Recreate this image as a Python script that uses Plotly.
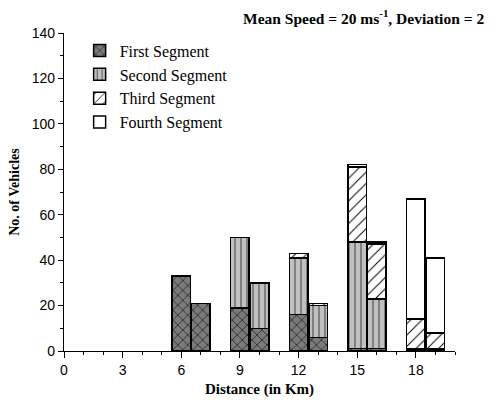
import plotly.graph_objects as go

# Data
distance = [6, 7, 9, 10, 12, 13, 15, 16, 18, 19]
first_seg = [33, 21, 19, 10, 16, 6, 1, 1, 0.5, 0.5]
second_seg = [0, 0, 31, 20, 25, 14, 47, 22, 0.5, 0.5]
third_seg = [0, 0, 0, 0, 2, 1, 33, 24, 13, 7]
fourth_seg = [0, 0, 0, 0, 0, 0, 1, 1, 53, 33]
x_ticks = [0, 3, 6, 9, 12, 15, 18]
y_ticks = [0, 20, 40, 60, 80, 100, 120, 140]

serif = "Liberation Serif"
sans = "Liberation Sans"

styles = [
    ("First Segment", first_seg, dict(shape="x", fgcolor="black", bgcolor="#7a7a7a", size=7, solidity=0.15, fillmode="replace")),
    ("Second Segment", second_seg, dict(shape="|", fgcolor="#555555", bgcolor="#c0c0c0", size=6, solidity=0.2, fillmode="replace")),
    ("Third Segment", third_seg, dict(shape="/", fgcolor="black", bgcolor="white", size=8, solidity=0.12, fillmode="replace")),
    ("Fourth Segment", fourth_seg, dict(shape="", bgcolor="white", fgcolor="white", fillmode="replace")),
]

fig = go.Figure()
for name, vals, pat in styles:
    fig.add_trace(go.Bar(
        x=distance, y=vals, name=name, width=0.95,
        marker=dict(color="white", line=dict(color="black", width=1.5), pattern=pat),
    ))

fig.update_layout(
    barmode="stack",
    width=499, height=403,
    margin=dict(l=64, r=44, t=33, b=52, autoexpand=False),
    paper_bgcolor="white", plot_bgcolor="white",
    showlegend=True,
    legend=dict(x=0.04, y=0.998, xanchor="left", yanchor="top",
                font=dict(family=serif, size=16, color="black"),
                bgcolor="rgba(0,0,0,0)", tracegroupgap=0, traceorder="normal"),
    xaxis=dict(range=[0, 20], tickmode="array", tickvals=x_ticks, ticktext=[str(v) for v in x_ticks],
               automargin=False,
               showgrid=False, zeroline=False, showline=True, linecolor="black", linewidth=1.2,
               ticks="outside", ticklen=6, tickcolor="black", tickwidth=1.2,
               minor=dict(dtick=1, ticks="outside", ticklen=3, tickcolor="black", tickwidth=1),
               tickfont=dict(family=sans, size=14, color="black"),
               title=dict(text="<b>Distance (in Km)</b>", font=dict(family=serif, size=15, color="black"), standoff=6)),
    yaxis=dict(range=[0, 140], tickmode="array", tickvals=y_ticks, ticktext=[str(v) for v in y_ticks],
               automargin=False,
               showgrid=False, zeroline=False, showline=True, linecolor="black", linewidth=1.2,
               ticks="outside", ticklen=5, tickcolor="black", tickwidth=1.2,
               minor=dict(dtick=10, ticks="outside", ticklen=3, tickcolor="black", tickwidth=1),
               tickfont=dict(family=sans, size=14, color="black"),
               title=dict(text="<b>No. of Vehicles</b>", font=dict(family=serif, size=14, color="black"), standoff=8)),
    annotations=[dict(
        text="<b>Mean Speed = 20 ms<sup>-1</sup>, Deviation = 2</b>",
        xref="paper", yref="paper", x=0.453, y=1.05, xanchor="left", yanchor="middle",
        showarrow=False, font=dict(family=serif, size=15.5, color="black"))],
)

fig.write_html("out.html", config={"displayModeBar": False},
               post_script="document.body.style.margin='0';")
